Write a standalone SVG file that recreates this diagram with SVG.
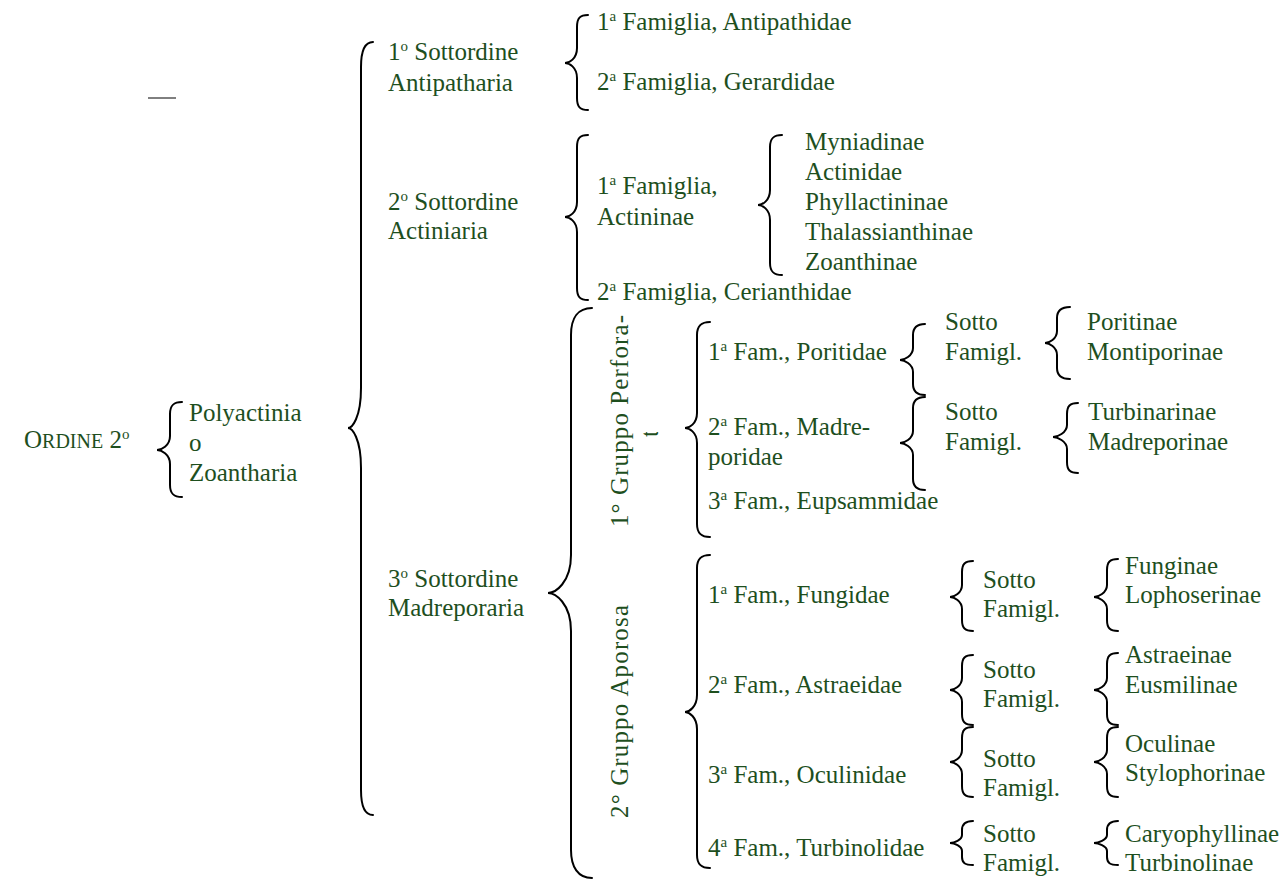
<svg xmlns="http://www.w3.org/2000/svg" width="1284" height="881" viewBox="0 0 1284 881">
<style>
text{font-family:"Liberation Serif","Times New Roman",serif;font-size:25px;fill:#1e4f1e}
.sup{font-size:15px}
.sc{font-size:20px}
.br{fill:none;stroke:#000;stroke-width:2;stroke-linecap:round}
</style>
<defs>
<clipPath id="clipTa"><rect x="630" y="400" width="24" height="60"/></clipPath>
</defs>
<rect width="1284" height="881" fill="#fff"/>
<g id="connectors">
<line x1="148" y1="98" x2="176" y2="98" stroke="#000" stroke-width="1"/>
<path class="br" d="M373,42 C365,42 361,50 361,67 L361,388 C361,418 352,428 348,428 C352,428 361,438 361,468 L361,790 C361,807 365,815 373,815"/>
<path class="br" d="M182,402 C174,402 170,405 170,414 L170,436 C170,446 161,450 157,450 C161,450 170,454 170,464 L170,485 C170,494 174,497 182,497"/>
<path class="br" d="M588,15 C580,15 577,18 577,27 L577,48 C577,59 569,63 565,63 C569,63 577,67 577,78 L577,98 C577,107 580,110 588,110"/>
<path class="br" d="M588,135 C580,135 577,138 577,147 L577,202 C577,213 569,217 565,217 C569,217 577,221 577,232 L577,288 C577,297 580,300 588,300"/>
<path class="br" d="M782,135 C774,135 770,138 770,147 L770,190 C770,201 762,205 758,205 C762,205 770,209 770,220 L770,263 C770,272 774,275 782,275"/>
<path class="br" d="M592,308 C578,308 571,318 571,335 L571,555 C571,583 555,593 548,593 C555,593 571,603 571,631 L571,850 C571,867 578,878 592,878"/>
<path class="br" d="M710,322 C702,322 697,325 697,335 L697,413 C697,424 689,428 685,428 C689,428 697,432 697,443 L697,524 C697,534 702,537 710,537"/>
<path class="br" d="M710,555 C702,555 697,558 697,568 L697,695 C697,707 689,712 685,712 C689,712 697,717 697,729 L697,855 C697,865 702,868 710,868"/>
<path class="br" d="M925,324 C917,324 913,327 913,335 L913,348 C913,356 904,360 900,360 C904,360 913,364 913,372 L913,384 C913,392 917,395 925,395"/>
<path class="br" d="M925,397 C917,397 913,400 913,408 L913,431 C913,439 904,443 900,443 C904,443 913,447 913,455 L913,479 C913,487 917,490 925,490"/>
<path class="br" d="M1070,307 C1062,307 1057,310 1057,318 L1057,331 C1057,339 1049,343 1045,343 C1049,343 1057,347 1057,355 L1057,368 C1057,376 1062,379 1070,379"/>
<path class="br" d="M1078,403 C1070,403 1067,406 1067,414 L1067,425 C1067,433 1057,437 1053,437 C1057,437 1067,441 1067,449 L1067,462 C1067,470 1070,473 1078,473"/>
<path class="br" d="M973,561 C965,561 962,564 962,572 L962,585 C962,593 954,597 950,597 C954,597 962,601 962,609 L962,620 C962,628 965,631 973,631"/>
<path class="br" d="M1118,559 C1110,559 1107,562 1107,570 L1107,585 C1107,593 1098,597 1094,597 C1098,597 1107,601 1107,609 L1107,620 C1107,628 1110,631 1118,631"/>
<path class="br" d="M973,655 C965,655 962,658 962,666 L962,678 C962,686 954,690 950,690 C954,690 962,694 962,702 L962,714 C962,722 965,725 973,725"/>
<path class="br" d="M1118,653 C1110,653 1107,656 1107,664 L1107,678 C1107,686 1098,690 1094,690 C1098,690 1107,694 1107,702 L1107,714 C1107,722 1110,725 1118,725"/>
<path class="br" d="M973,727 C965,727 962,730 962,738 L962,750 C962,758 954,762 950,762 C954,762 962,766 962,774 L962,786 C962,794 965,797 973,797"/>
<path class="br" d="M1118,727 C1110,727 1107,730 1107,738 L1107,750 C1107,758 1098,762 1094,762 C1098,762 1107,766 1107,774 L1107,786 C1107,794 1110,797 1118,797"/>
<path class="br" d="M973,821 C965,821 962,824 962,830 L962,835 C962,840 954,843 950,843 C954,843 962,846 962,851 L962,857 C962,863 965,865 973,865"/>
<path class="br" d="M1118,821 C1110,821 1107,824 1107,830 L1107,835 C1107,840 1098,843 1094,843 C1098,843 1107,846 1107,851 L1107,857 C1107,863 1110,865 1118,865"/>
</g>
<g id="ordine"><text x="24" y="448">O<tspan class="sc">RDINE</tspan> 2<tspan class="sup" dy="-9">o</tspan></text></g>
<g id="polyactinia"><text x="189" y="421">Polyactinia</text><text x="189" y="451">o</text><text x="189" y="481">Zoantharia</text></g>
<g id="sottordine1"><text x="388" y="60">1<tspan class="sup" dy="-9">o</tspan><tspan dy="9"> Sottordine</tspan></text><text x="388" y="91">Antipatharia</text></g>
<g id="sottordine2"><text x="388" y="210">2<tspan class="sup" dy="-9">o</tspan><tspan dy="9"> Sottordine</tspan></text><text x="388" y="239">Actiniaria</text></g>
<g id="sottordine3"><text x="388" y="587">3<tspan class="sup" dy="-9">o</tspan><tspan dy="9"> Sottordine</tspan></text><text x="388" y="616">Madreporaria</text></g>
<g id="antipathidae"><text x="597" y="30">1<tspan class="sup" dy="-9">a</tspan><tspan dy="9"> Famiglia, Antipathidae</tspan></text></g>
<g id="gerardidae"><text x="597" y="90">2<tspan class="sup" dy="-9">a</tspan><tspan dy="9"> Famiglia, Gerardidae</tspan></text></g>
<g id="actininae"><text x="597" y="194">1<tspan class="sup" dy="-9">a</tspan><tspan dy="9"> Famiglia,</tspan></text><text x="597" y="225">Actininae</text></g>
<g id="actininae-sub"><text x="805" y="150">Myniadinae</text><text x="805" y="180">Actinidae</text><text x="805" y="210">Phyllactininae</text><text x="805" y="240">Thalassianthinae</text><text x="805" y="270">Zoanthinae</text></g>
<g id="cerianthidae"><text x="597" y="300">2<tspan class="sup" dy="-9">a</tspan><tspan dy="9"> Famiglia, Cerianthidae</tspan></text></g>
<g id="perforata"><text transform="rotate(-90 628 527)" x="628" y="527" textLength="212" lengthAdjust="spacing">1° Gruppo Perfora-</text><text clip-path="url(#clipTa)" transform="rotate(-90 658 428)" x="658" y="428" text-anchor="middle">ta</text></g>
<g id="aporosa"><text transform="rotate(-90 628 818)" x="628" y="818" textLength="213" lengthAdjust="spacing">2° Gruppo Aporosa</text></g>
<g id="poritidae"><text x="708" y="360">1<tspan class="sup" dy="-9">a</tspan><tspan dy="9"> Fam., Poritidae</tspan></text></g>
<g id="madreporidae"><text x="708" y="435">2<tspan class="sup" dy="-9">a</tspan><tspan dy="9"> Fam., Madre-</tspan></text><text x="708" y="465">poridae</text></g>
<g id="eupsammidae"><text x="708" y="509">3<tspan class="sup" dy="-9">a</tspan><tspan dy="9"> Fam., Eupsammidae</tspan></text></g>
<g id="sf-poritidae"><text x="945" y="330">Sotto</text><text x="945" y="360">Famigl.</text></g>
<g id="sf-madreporidae"><text x="945" y="420">Sotto</text><text x="945" y="450">Famigl.</text></g>
<g id="poritinae"><text x="1087" y="330">Poritinae</text><text x="1087" y="360">Montiporinae</text></g>
<g id="turbinarinae"><text x="1088" y="420">Turbinarinae</text><text x="1088" y="450">Madreporinae</text></g>
<g id="fungidae"><text x="708" y="603">1<tspan class="sup" dy="-9">a</tspan><tspan dy="9"> Fam., Fungidae</tspan></text></g>
<g id="astraeidae"><text x="708" y="693">2<tspan class="sup" dy="-9">a</tspan><tspan dy="9"> Fam., Astraeidae</tspan></text></g>
<g id="oculinidae"><text x="708" y="783">3<tspan class="sup" dy="-9">a</tspan><tspan dy="9"> Fam., Oculinidae</tspan></text></g>
<g id="turbinolidae"><text x="708" y="856">4<tspan class="sup" dy="-9">a</tspan><tspan dy="9"> Fam., Turbinolidae</tspan></text></g>
<g id="sf-fungidae"><text x="983" y="588">Sotto</text><text x="983" y="617">Famigl.</text></g>
<g id="sf-astraeidae"><text x="983" y="678">Sotto</text><text x="983" y="707">Famigl.</text></g>
<g id="sf-oculinidae"><text x="983" y="767">Sotto</text><text x="983" y="796">Famigl.</text></g>
<g id="sf-turbinolidae"><text x="983" y="842">Sotto</text><text x="983" y="871">Famigl.</text></g>
<g id="funginae"><text x="1125" y="574">Funginae</text><text x="1125" y="603">Lophoserinae</text></g>
<g id="astraeinae"><text x="1125" y="663">Astraeinae</text><text x="1125" y="693">Eusmilinae</text></g>
<g id="oculinae"><text x="1125" y="752">Oculinae</text><text x="1125" y="781">Stylophorinae</text></g>
<g id="caryophyllinae"><text x="1125" y="842">Caryophyllinae</text><text x="1125" y="871">Turbinolinae</text></g>
</svg>
